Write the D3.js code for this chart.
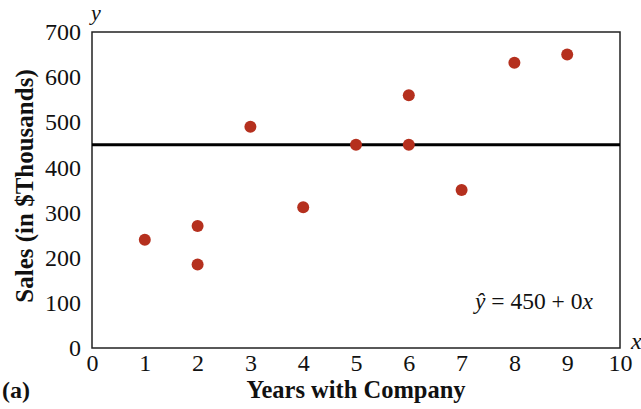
<!DOCTYPE html>
<html>
<head>
<meta charset="utf-8">
<script src="https://cdn.jsdelivr.net/npm/d3@7"></script>
<style>
  body { margin: 0; background: #fff; }
  text { font-family: "Liberation Serif", "Times New Roman", serif; fill: #111; }
</style>
</head>
<body>
<svg id="chart" width="641" height="409"></svg>
<script>
// data
const years = [1, 2, 2, 3, 4, 5, 6, 6, 7, 8, 9];
const sales = [240, 270, 185, 490, 312, 450, 560, 450, 350, 632, 650];
const xTicks = [0, 1, 2, 3, 4, 5, 6, 7, 8, 9, 10];
const yTicks = [0, 100, 200, 300, 400, 500, 600, 700];
const intercept = 450;
const slope = 0;

const svg = d3.select('#chart');
const margin = { left: 92, right: 21, top: 32, bottom: 61 };
const width = 641 - margin.left - margin.right;
const height = 409 - margin.top - margin.bottom;

const x = d3.scaleLinear().domain([0, 10]).range([margin.left, margin.left + width]);
const y = d3.scaleLinear().domain([0, 700]).range([margin.top + height, margin.top]);

// frame
svg.append('rect')
  .attr('x', x(0))
  .attr('y', y(700))
  .attr('width', width)
  .attr('height', height)
  .attr('fill', 'none')
  .attr('stroke', '#222')
  .attr('stroke-width', 1.5);

// axes, labels only
const xAxis = svg.append('g')
  .attr('transform', `translate(0,${y(0)})`)
  .call(d3.axisBottom(x).tickValues(xTicks).tickSize(0).tickPadding(6));
const yAxis = svg.append('g')
  .attr('transform', `translate(${x(0)},0)`)
  .call(d3.axisLeft(y).tickValues(yTicks).tickSize(0).tickPadding(11));
[xAxis, yAxis].forEach(g => {
  g.attr('font-family', null).attr('font-size', null);
  g.select('.domain').remove();
  g.selectAll('text')
    .style('font-family', '"Liberation Serif", serif')
    .style('font-size', '24px')
    .attr('fill', '#111');
});

// regression line
svg.append('line')
  .attr('x1', x(0))
  .attr('x2', x(10))
  .attr('y1', y(intercept + slope * 0))
  .attr('y2', y(intercept + slope * 10))
  .attr('stroke', '#000')
  .attr('stroke-width', 3);

// points
svg.append('g')
  .selectAll('circle')
  .data(years.map((d, i) => ({ x: d, y: sales[i] })))
  .enter()
  .append('circle')
  .attr('cx', d => x(d.x))
  .attr('cy', d => y(d.y))
  .attr('r', 6)
  .attr('fill', '#b5301e');

// axis letters
svg.append('text')
  .attr('x', x(0) - 1)
  .attr('y', 20)
  .style('font-size', '22px')
  .style('font-style', 'italic')
  .text('y');
svg.append('text')
  .attr('x', x(10) + 11)
  .attr('y', y(0) + 1)
  .style('font-size', '24px')
  .style('font-style', 'italic')
  .text('x');

// equation
const eq = svg.append('text')
  .attr('x', 475)
  .attr('y', 309)
  .style('font-size', '23.5px');
eq.append('tspan').style('font-style', 'italic').text('ŷ');
eq.append('tspan').text(` = ${intercept} + ${slope}`);
eq.append('tspan').style('font-style', 'italic').text('x');

// titles
svg.append('text')
  .attr('x', 356)
  .attr('y', 398)
  .attr('text-anchor', 'middle')
  .style('font-size', '24.5px')
  .style('font-weight', 'bold')
  .text('Years with Company');
svg.append('text')
  .attr('transform', `translate(33,186) rotate(-90)`)
  .attr('text-anchor', 'middle')
  .style('font-size', '25px')
  .style('font-weight', 'bold')
  .text('Sales (in $Thousands)');
svg.append('text')
  .attr('x', 2)
  .attr('y', 398)
  .style('font-size', '24px')
  .style('font-weight', 'bold')
  .text('(a)');
</script>
</body>
</html>
